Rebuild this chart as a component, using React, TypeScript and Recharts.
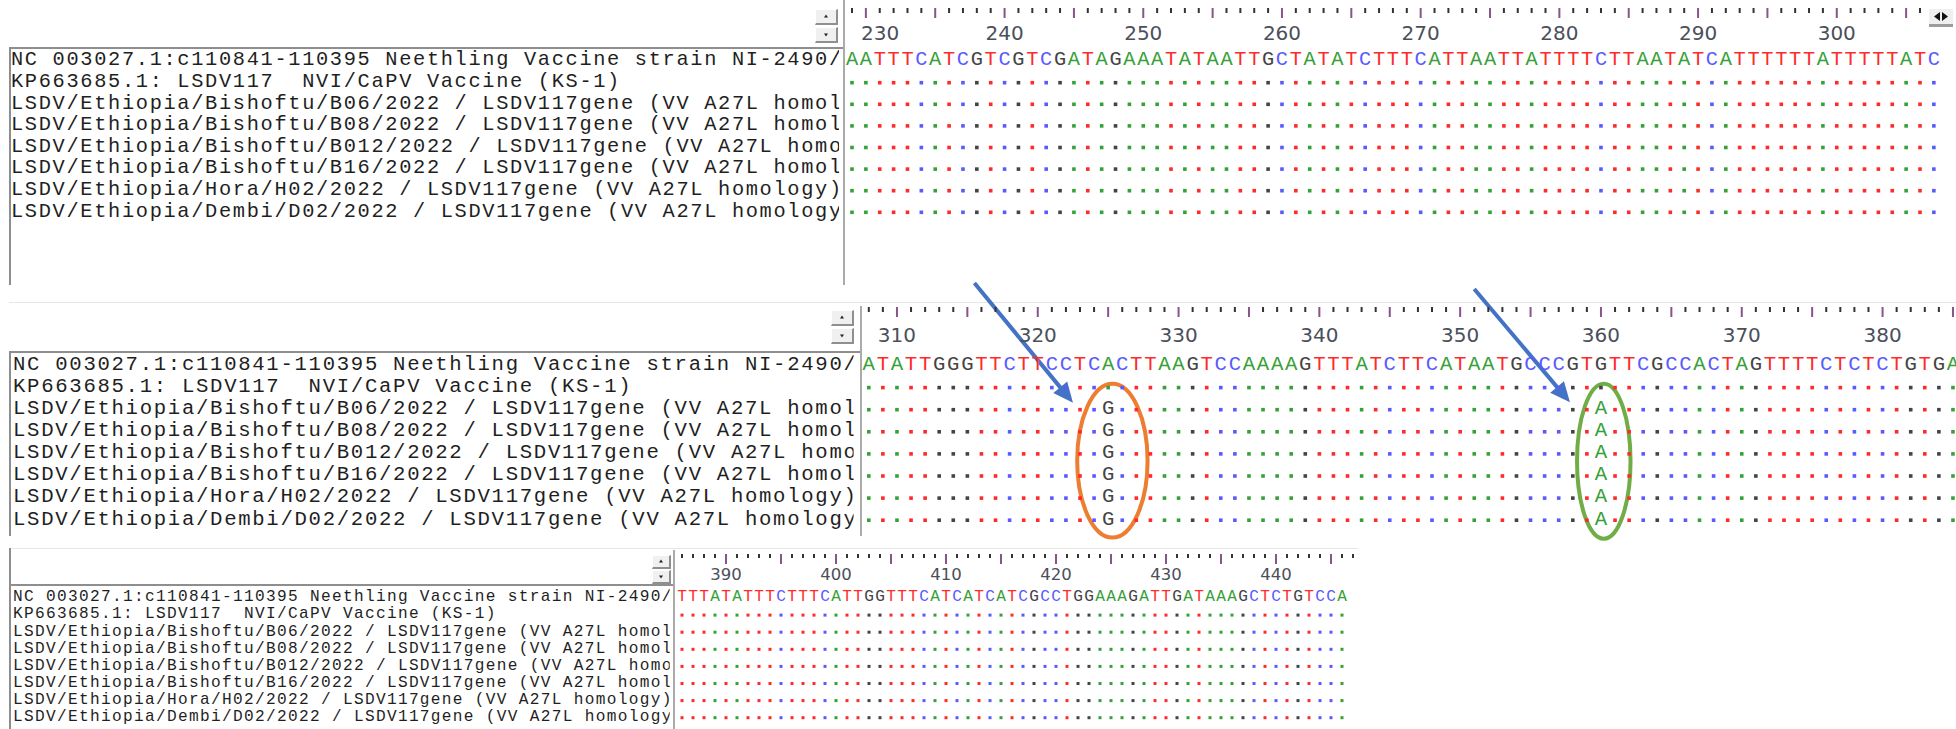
import { useMemo } from "react";
import { ScatterChart, Scatter, XAxis, YAxis, ReferenceArea, ReferenceLine } from "recharts";

// sequence labels, top to bottom (row 0 is the reference)
const SEQ_NAMES = [
  "NC 003027.1:c110841-110395 Neethling Vaccine strain NI-2490/",
  "KP663685.1: LSDV117  NVI/CaPV Vaccine (KS-1)",
  "LSDV/Ethiopia/Bishoftu/B06/2022 / LSDV117gene (VV A27L homology)",
  "LSDV/Ethiopia/Bishoftu/B08/2022 / LSDV117gene (VV A27L homology)",
  "LSDV/Ethiopia/Bishoftu/B012/2022 / LSDV117gene (VV A27L homology)",
  "LSDV/Ethiopia/Bishoftu/B16/2022 / LSDV117gene (VV A27L homology)",
  "LSDV/Ethiopia/Hora/H02/2022 / LSDV117gene (VV A27L homology)",
  "LSDV/Ethiopia/Dembi/D02/2022 / LSDV117gene (VV A27L homology)",
];

// reference bases for each block, and the site number of its first base
const BLOCK_STARTS = [229, 308, 386];
const REF_BLOCK_1 = "AATTTCATCGTCGTCGATAGAAATATAATTGCTATATCTTTCATTAATTATTTTCTTAATATCATTTTTTATTTTTATC";
const REF_BLOCK_2 = "ATATTGGGTTCTTCCTCACTTAAGTCCAAAAGTTTATCTTCATAATGCCCGTGTTCGCCACTAGTTTTCTCTCTGTGA";
const REF_BLOCK_3 = "TTTATATTTCTTTCATTGGTTTCATCATCATCGCCTGGAAAGATTGATAAAGCTCTGTCCA";
const REF_BLOCKS = [REF_BLOCK_1, REF_BLOCK_2, REF_BLOCK_3];
// last site numbered on each ruler
const RULER_ENDS = [306, 385, 447];

// sites where the Ethiopian isolates differ from the reference
const VARIANT_SITES = [325, 360];
const VARIANT_BASES = ["G", "A"];
const VARIANT_ROWS = [2, 3, 4, 5, 6, 7];

// call-outs on the middle block, in (site, row) units
const ARROWS = [
  { from: [315.5, -3.62], to: [322.5, 1.8] },
  { from: [351.0, -3.35], to: [357.8, 1.78] },
];
const RINGS = [
  { x: [322.8, 327.8], y: [0.94, 7.9], color: "#ed7d31" },
  { x: [358.3, 362.1], y: [0.94, 7.95], color: "#70ad47" },
];

const BASE_COLORS: Record<string, string> = {
  A: "#38a038",
  T: "#ff2a2a",
  C: "#5a5aff",
  G: "#444444",
};

const MONO = "Liberation Mono";

// block geometry: top of pane, column pitch, first row centre (relative to pane top) etc.
const PANE_LAYOUT = [
  { top: 0, width: 1956, height: 290, firstX: 852, pitch: 13.87, rowY: 58.6, rowPitch: 21.6, tickTop: 8, minor: 5, labelY: 33, labelSize: 20, nameX: 11, dot: 3.6, dotDrop: 2.5 },
  { top: 280, width: 1956, height: 268, firstX: 868.8, pitch: 14.08, rowY: 83, rowPitch: 22.1, tickTop: 27, minor: 5, labelY: 54.5, labelSize: 20, nameX: 13, dot: 3.6, dotDrop: 2.5 },
  { top: 548, width: 1358, height: 181, firstX: 682, pitch: 11.0, rowY: 48, rowPitch: 17.1, tickTop: 6, minor: 4, labelY: 26, labelSize: 16.5, nameX: 13, dot: 3, dotDrop: 2 },
];

type Cell = { site: number; row: number; base: string; dot: boolean };

function buildCells(start: number, ref: string): Cell[] {
  const cells: Cell[] = [];
  for (let i = 0; i < ref.length; i++) {
    const site = start + i;
    const v = VARIANT_SITES.indexOf(site);
    SEQ_NAMES.forEach((_, row) => {
      if (row === 0) cells.push({ site, row, base: ref[i], dot: false });
      else if (v >= 0 && VARIANT_ROWS.includes(row)) cells.push({ site, row, base: VARIANT_BASES[v], dot: false });
      else cells.push({ site, row, base: ref[i], dot: true });
    });
  }
  return cells;
}

function Arrow(props: any) {
  const { x1, y1, x2, y2 } = props;
  const dx = x2 - x1;
  const dy = y2 - y1;
  const len = Math.hypot(dx, dy);
  const ux = dx / len;
  const uy = dy / len;
  const head = 20;
  const half = 9;
  const bx = x2 - ux * head;
  const by = y2 - uy * head;
  return (
    <g>
      <line x1={x1} y1={y1} x2={bx + ux * 2} y2={by + uy * 2} stroke="#4472c4" strokeWidth={4} />
      <polygon
        points={`${x2},${y2} ${bx - uy * half},${by + ux * half} ${bx + uy * half},${by - ux * half}`}
        fill="#4472c4"
      />
    </g>
  );
}

function Ring(color: string) {
  return (props: any) => {
    const { x, y, width, height } = props;
    return (
      <ellipse
        cx={x + width / 2}
        cy={y + height / 2}
        rx={width / 2}
        ry={height / 2}
        fill="none"
        stroke={color}
        strokeWidth={4}
      />
    );
  };
}

function AlignmentPane({ block, annotated }: { block: number; annotated?: boolean }) {
  const lay = PANE_LAYOUT[block];
  const start = BLOCK_STARTS[block];
  const ref = REF_BLOCKS[block];
  const cells = useMemo(() => buildCells(start, ref), [start, ref]);

  const plotLeft = lay.firstX - lay.pitch / 2;
  const plotTop = lay.rowY - lay.rowPitch / 2;
  const plotHeight = lay.rowPitch * SEQ_NAMES.length;
  const domainEnd = start - 0.5 + (lay.width - plotLeft) / lay.pitch;
  const fontSize = (lay.pitch / 0.6) * 0.88;
  const spacing = lay.pitch - 0.6 * fontSize;
  const sites: number[] = [];
  for (let s = start; s <= RULER_ENDS[block]; s++) sites.push(s);
  const rows = SEQ_NAMES.map((_, i) => i);

  const rulerTick = (props: any) => {
    const { x, payload } = props;
    const site = payload.value as number;
    const major = site % 5 === 0;
    return (
      <g>
        <rect
          x={x - 1}
          y={lay.tickTop}
          width={2}
          height={major ? 10 : lay.minor}
          fill={major ? "#87558a" : "#333333"}
        />
        {site % 10 === 0 && (
          <text
            // keep the first number clear of the pane's left edge
            x={Math.max(x, plotLeft + lay.labelSize * 1.75)}
            y={lay.labelY + lay.labelSize * 0.36}
            textAnchor="middle"
            fontFamily="DejaVu Sans"
            fontSize={lay.labelSize}
            fill="#4b4f5a"
          >
            {site}
          </text>
        )}
      </g>
    );
  };

  const nameTick = (props: any) => {
    const { y, payload } = props;
    const clipW = 59.7 * lay.pitch;
    return (
      <svg x={lay.nameX} y={y - lay.rowPitch} width={clipW} height={lay.rowPitch * 2} overflow="hidden">
        <text
          x={0}
          y={lay.rowPitch + fontSize * 0.33}
          fontFamily={MONO}
          fontSize={fontSize}
          letterSpacing={spacing}
          fill="#1f1f1f"
          style={{ whiteSpace: "pre" }}
        >
          {SEQ_NAMES[payload.value]}
        </text>
      </svg>
    );
  };

  const baseShape = (props: any) => {
    const { cx, cy, payload } = props;
    const fill = BASE_COLORS[payload.base];
    if (payload.dot) {
      return (
        <rect
          x={cx - lay.dot / 2}
          y={cy + lay.dotDrop - lay.dot / 2}
          width={lay.dot}
          height={lay.dot}
          fill={fill}
        />
      );
    }
    return (
      <text x={cx} y={cy + fontSize * 0.33} textAnchor="middle" fontFamily={MONO} fontSize={fontSize} fill={fill}>
        {payload.base}
      </text>
    );
  };

  return (
    <div style={{ position: "absolute", left: 0, top: lay.top }}>
      <ScatterChart
        width={lay.width}
        height={lay.height}
        margin={{ top: 0, right: 0, left: 0, bottom: lay.height - plotTop - plotHeight }}
      >
        <XAxis
          dataKey="site"
          type="number"
          orientation="top"
          domain={[start - 0.5, domainEnd]}
          allowDataOverflow
          ticks={sites}
          interval={0}
          height={plotTop}
          axisLine={false}
          tickLine={false}
          tick={rulerTick}
        />
        <YAxis
          dataKey="row"
          type="number"
          domain={[-0.5, SEQ_NAMES.length - 0.5]}
          reversed
          allowDataOverflow
          ticks={rows}
          interval={0}
          width={plotLeft}
          axisLine={false}
          tickLine={false}
          tick={nameTick}
        />
        <Scatter data={cells} shape={baseShape} isAnimationActive={false} />
        {annotated &&
          RINGS.map((r, i) => (
            <ReferenceArea
              key={`ring-${i}`}
              x1={r.x[0]}
              x2={r.x[1]}
              y1={r.y[0]}
              y2={r.y[1]}
              ifOverflow="visible"
              shape={Ring(r.color)}
            />
          ))}
        {annotated &&
          ARROWS.map((a, i) => (
            <ReferenceLine
              key={`arrow-${i}`}
              segment={[
                { x: a.from[0], y: a.from[1] },
                { x: a.to[0], y: a.to[1] },
              ]}
              ifOverflow="visible"
              shape={Arrow}
            />
          ))}
      </ScatterChart>
    </div>
  );
}

function Line({ x, y, w, h, color }: { x: number; y: number; w: number; h: number; color: string }) {
  return <div style={{ position: "absolute", left: x, top: y, width: w, height: h, background: color }} />;
}

function ScrollButton({ x, y, w, h, up }: { x: number; y: number; w: number; h: number; up?: boolean }) {
  const cx = (w - 3) / 2;
  const cy = (h - 3) / 2;
  return (
    <div
      style={{
        position: "absolute",
        left: x,
        top: y,
        width: w,
        height: h,
        boxSizing: "border-box",
        background: "#f0f0f0",
        borderTop: "1px solid #ffffff",
        borderLeft: "1px solid #ffffff",
        borderRight: "2px solid #8f8f8f",
        borderBottom: "2px solid #8f8f8f",
      }}
    >
      <svg width={w - 3} height={h - 3} style={{ position: "absolute", left: 0, top: 0 }}>
        <polygon
          points={
            up
              ? `${cx},${cy - 2} ${cx - 2},${cy + 1} ${cx + 2},${cy + 1}`
              : `${cx},${cy + 2} ${cx - 2},${cy - 1} ${cx + 2},${cy - 1}`
          }
          fill="#222"
        />
      </svg>
    </div>
  );
}

export default function App() {
  const frame = "#8e8e8e";
  const pane = "#ababab";
  const sep = "#e6e6e6";
  return (
    <div style={{ position: "relative", width: 1956, height: 729, background: "#ffffff", overflow: "hidden" }}>
      <style>{"body{margin:0}"}</style>

      {/* block 1 frame */}
      <Line x={843} y={0} w={2} h={285} color={pane} />
      <Line x={9} y={47} w={834} h={2} color={frame} />
      <Line x={9} y={47} w={2} h={238} color={frame} />
      <ScrollButton x={815} y={9} w={23} h={16} up />
      <ScrollButton x={815} y={27} w={23} h={16} />

      {/* block 2 frame */}
      <Line x={9} y={302} w={1947} h={1} color={sep} />
      <Line x={860} y={306} w={2} h={230} color={pane} />
      <Line x={9} y={351} w={851} h={2} color={frame} />
      <Line x={9} y={351} w={2} h={185} color={frame} />
      <ScrollButton x={831} y={310} w={23} h={16} up />
      <ScrollButton x={831} y={328} w={23} h={16} />

      {/* block 3 frame */}
      <Line x={9} y={548} w={1349} h={1} color={sep} />
      <Line x={9} y={548} w={2} h={181} color={frame} />
      <Line x={673} y={550} w={2} h={179} color={pane} />
      <Line x={9} y={584} w={664} h={2} color={frame} />
      <ScrollButton x={652} y={555} w={19} h={14} up />
      <ScrollButton x={652} y={570} w={19} h={14} />

      <AlignmentPane block={0} />
      <AlignmentPane block={1} annotated />
      <AlignmentPane block={2} />

      {/* horizontal scroll handle, top right */}
      <div
        style={{
          position: "absolute",
          left: 1929,
          top: 9,
          width: 24,
          height: 18,
          boxSizing: "border-box",
          background: "#efefef",
          borderBottom: "3px solid #9c9c9c",
        }}
      >
        <svg width={24} height={15}>
          <polygon points="5,7.5 11,3 11,12" fill="#111" />
          <polygon points="19,7.5 13,3 13,12" fill="#111" />
        </svg>
      </div>
    </div>
  );
}
